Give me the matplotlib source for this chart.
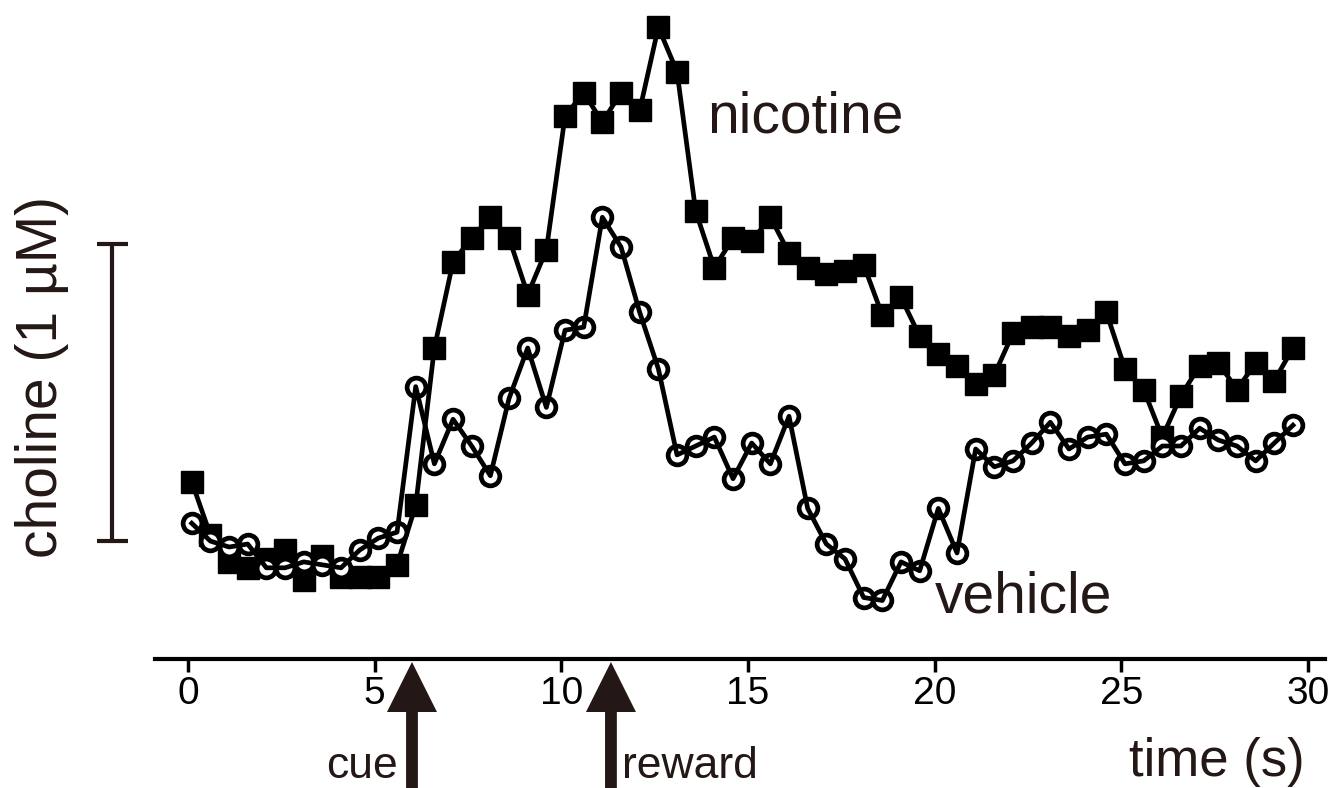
import matplotlib
matplotlib.use("Agg")
import matplotlib.pyplot as plt

plt.rcParams["font.family"] = ["Liberation Sans", "DejaVu Sans"]

# sample times (s), one every 0.5 s
time_s = [0.1, 0.6, 1.1, 1.6, 2.1, 2.6, 3.1, 3.6, 4.1, 4.6,
          5.1, 5.6, 6.1, 6.6, 7.1, 7.6, 8.1, 8.6, 9.1, 9.6,
          10.1, 10.6, 11.1, 11.6, 12.1, 12.6, 13.1, 13.6, 14.1, 14.6,
          15.1, 15.6, 16.1, 16.6, 17.1, 17.6, 18.1, 18.6, 19.1, 19.6,
          20.1, 20.6, 21.1, 21.6, 22.1, 22.6, 23.1, 23.6, 24.1, 24.6,
          25.1, 25.6, 26.1, 26.6, 27.1, 27.6, 28.1, 28.6, 29.1, 29.6]

# choline (uM, relative to the bottom of the scale bar)
nicotine = [0.20, 0.02, -0.07, -0.09, -0.06, -0.03, -0.13, -0.05, -0.12, -0.12,
            -0.12, -0.08, 0.12, 0.65, 0.94, 1.02, 1.09, 1.02, 0.83, 0.98,
            1.43, 1.51, 1.41, 1.51, 1.45, 1.73, 1.58, 1.11, 0.92, 1.02,
            1.01, 1.09, 0.97, 0.92, 0.90, 0.91, 0.93, 0.76, 0.82, 0.69,
            0.63, 0.59, 0.53, 0.56, 0.70, 0.72, 0.72, 0.69, 0.71, 0.77,
            0.58, 0.51, 0.35, 0.49, 0.59, 0.60, 0.51, 0.60, 0.54, 0.65]

vehicle = [0.06, 0.00, -0.02, -0.01, -0.09, -0.09, -0.07, -0.08, -0.09, -0.03,
           0.01, 0.03, 0.52, 0.26, 0.41, 0.32, 0.22, 0.48, 0.65, 0.45,
           0.71, 0.72, 1.09, 0.99, 0.77, 0.58, 0.29, 0.32, 0.35, 0.21,
           0.33, 0.26, 0.42, 0.11, -0.01, -0.06, -0.19, -0.20, -0.07, -0.10,
           0.11, -0.04, 0.31, 0.25, 0.27, 0.33, 0.40, 0.31, 0.35, 0.36,
           0.26, 0.27, 0.32, 0.32, 0.38, 0.34, 0.32, 0.27, 0.33, 0.39]

xticks = [0, 5, 10, 15, 20, 25, 30]
events = [6.0, 11.33]
event_labels = ["cue", "reward"]

fig = plt.figure(figsize=(13.29, 7.88), dpi=100)
ax = fig.add_axes([0, 129 / 788, 1, 659 / 788])
ax.set_xlim(-5.036, 30.565)
ax.set_ylim(-0.397, 1.8215)

# nicotine: filled squares
ax.plot(time_s, nicotine, color="black", lw=3.4, marker="s", ms=16,
        mfc="black", mec="black", zorder=2)
# vehicle: open circles, line drawn over them
ax.plot(time_s, vehicle, ls="none", marker="o", ms=13.5, mfc="white",
        mec="black", mew=3.4, zorder=3)
ax.plot(time_s, vehicle, color="black", lw=3.4, zorder=4)

ax.text(13.9, 1.374, "nicotine", fontsize=41, ha="left", va="baseline",
        color="#231815")
ax.text(20.0, -0.242, "vehicle", fontsize=41, ha="left", va="baseline",
        color="#231815")

# 1 uM scale bar
ax.plot([-2.03, -2.03], [0, 1], color="#231815", lw=3, solid_capstyle="butt")
ax.plot([-2.44, -1.61], [0, 0], color="#231815", lw=3, solid_capstyle="butt")
ax.plot([-2.44, -1.61], [1, 1], color="#231815", lw=3, solid_capstyle="butt")
ax.text(-3.91, 0.552, "choline (1 \u00b5M)", fontsize=41, rotation=90,
        ha="center", va="center", color="#231815")

for side in ["left", "top", "right"]:
    ax.spines[side].set_visible(False)
ax.spines["bottom"].set_linewidth(3)
ax.spines["bottom"].set_bounds(-0.88, 30.46)
ax.set_yticks([])
ax.set_xticks(xticks)
ax.tick_params(axis="x", length=9, width=2.5, pad=3, labelsize=28,
               direction="out")

# cue / reward arrows under the axis
for t, lab in zip(events, event_labels):
    ax.annotate("", xy=(t, 126), xytext=(t, -5),
                xycoords=("data", "figure pixels"),
                textcoords=("data", "figure pixels"),
                arrowprops=dict(arrowstyle="simple,head_length=36,head_width=36,tail_width=8.5",
                                mutation_scale=1, fc="#231815", ec="none",
                                shrinkA=0, shrinkB=0),
                annotation_clip=False)
fig.text(398 / 1329, 10 / 788, "cue", fontsize=32, ha="right", va="baseline",
         color="#231815")
fig.text(622 / 1329, 10 / 788, "reward", fontsize=32, ha="left", va="baseline",
         color="#231815")
fig.text(1305 / 1329, 12 / 788, "time (s)", fontsize=38, ha="right",
         va="baseline", color="#231815")

fig.savefig("out.png", dpi=100)
